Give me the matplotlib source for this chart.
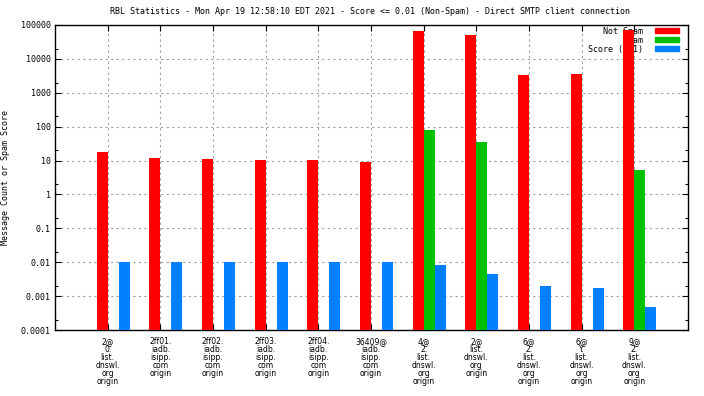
import numpy as np
import matplotlib
matplotlib.use('Agg')
import matplotlib.pyplot as plt
from matplotlib.patches import Patch
from matplotlib.ticker import FixedLocator, FuncFormatter, NullFormatter

plt.rcParams['font.family'] = ['DejaVu Sans Mono']
plt.rcParams['font.size'] = 6

# data
hosts = ['2@\n0.\nlist.\ndnswl.\norg\norigin',
         '2ff01.\niadb.\nisipp.\ncom\norigin',
         '2ff02.\niadb.\nisipp.\ncom\norigin',
         '2ff03.\niadb.\nisipp.\ncom\norigin',
         '2ff04.\niadb.\nisipp.\ncom\norigin',
         '36409@\niadb.\nisipp.\ncom\norigin',
         '4@\n2.\nlist.\ndnswl.\norg\norigin',
         '2@\nlist.\ndnswl.\norg\norigin',
         '6@\n2.\nlist.\ndnswl.\norg\norigin',
         '6@\nY.\nlist.\ndnswl.\norg\norigin',
         '9@\n2.\nlist.\ndnswl.\norg\norigin']
not_spam = [18, 12.2, 11.4, 10.3, 10.2, 9.3, 66000, 51000, 3400, 3600, 71000]
spam = [np.nan, np.nan, np.nan, np.nan, np.nan, np.nan, 81, 36, np.nan, np.nan, 5.1]
score = [0.01, 0.01, 0.01, 0.01, 0.01, 0.01, 0.0081, 0.0045, 0.0020, 0.0017, 0.00048]

red, green, blue = '#ff0000', '#00c000', '#0080ff'

fig = plt.figure(figsize=(7.04, 3.96), dpi=100)
ax = fig.add_axes([55 / 704, 66 / 396, 633 / 704, 305 / 396])

x = np.arange(len(hosts))
w = 0.21
ax.bar(x - w / 2, not_spam, w, color=red, zorder=3)
ax.bar(x + w / 2, spam, w, color=green, zorder=3)
ax.bar(x + 1.5 * w, score, w, color=blue, zorder=3)

ax.set_yscale('log')
ax.set_ylim(1e-4, 1e5)
ax.set_xlim(-1, 11.02)

ax.yaxis.set_major_locator(FixedLocator([10.0 ** k for k in range(-4, 6)]))
ax.yaxis.set_major_formatter(FuncFormatter(lambda v, p: ('%.4f' % v).rstrip('0').rstrip('.') if v < 1 else '%d' % v))
ax.yaxis.set_minor_locator(FixedLocator([2 * 10.0 ** k for k in range(-4, 5)]))
ax.yaxis.set_minor_formatter(NullFormatter())
ax.set_xticks(x)
ax.set_xticklabels(hosts, linespacing=0.85, va='top', family='DejaVu Sans', fontsize=5.5)

ax.tick_params(which='both', direction='in', top=True, right=True, width=0.8)
ax.tick_params(which='major', length=4, pad=3)
ax.tick_params(which='minor', length=2)
ax.tick_params(axis='x', pad=5)

ax.grid(True, which='major', color='#a0a0a0', linestyle=(0, (2, 3)), linewidth=0.8, zorder=0)
ax.set_axisbelow(True)
for s in ax.spines.values():
    s.set_linewidth(1)

ax.set_ylabel('Message Count or Spam Score', labelpad=8)
fig.text(0.525, 0.97, 'RBL Statistics - Mon Apr 19 12:58:10 EDT 2021 - Score <= 0.01 (Non-Spam) - Direct SMTP client connection',
         ha='center', va='center', fontsize=6)

handles = [Patch(color=red), Patch(color=green), Patch(color=blue)]
leg = ax.legend(handles, ['Not Spam', 'Spam', 'Score (0.1)'], loc='upper right', frameon=False,
                bbox_to_anchor=(0.986, 0.995), borderaxespad=0, borderpad=0,
                markerfirst=False, handlelength=2.9, handleheight=0.5, labelspacing=0.0,
                handletextpad=1.4, fontsize=6)
for t in leg.get_texts():
    t.set_ha('right')
leg.set_zorder(1)

fig.savefig('out.png', dpi=100)
